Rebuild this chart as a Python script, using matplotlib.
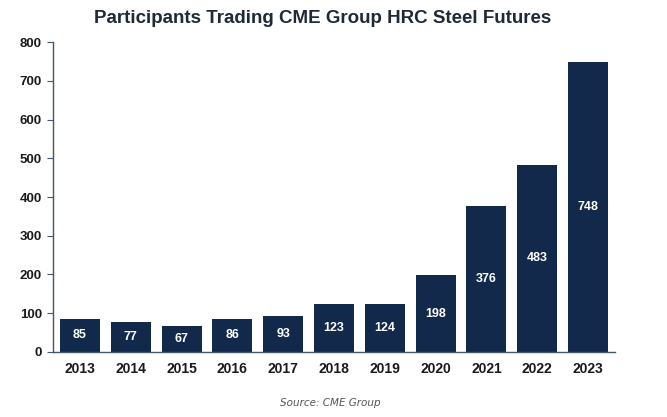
import matplotlib
matplotlib.use("Agg")
import matplotlib.pyplot as plt

years = ["2013", "2014", "2015", "2016", "2017", "2018", "2019", "2020", "2021", "2022", "2023"]
participants = [85, 77, 67, 86, 93, 123, 124, 198, 376, 483, 748]
yticks = [0, 100, 200, 300, 400, 500, 600, 700, 800]

navy = "#13294B"
plt.rcParams['font.family'] = ['Liberation Sans', 'DejaVu Sans']

fig = plt.figure(figsize=(6.67, 4.17), dpi=100)
ax = fig.add_axes([0.0795, 0.156, 0.8425, 0.743])
x = list(range(len(years)))
bars = ax.bar(x, participants, width=0.79, color=navy)
for xi, v in zip(x, participants):
    ax.text(xi, v / 2, str(v), ha='center', va='center', color='white',
            fontsize=9, fontweight='bold')

ax.set_xlim(-0.53, 10.53)
ax.set_ylim(0, 800)
ax.set_yticks(yticks)
ax.set_xticks(x)
ax.set_xticklabels(years)
for s in ['top', 'right']:
    ax.spines[s].set_visible(False)
for s in ['left', 'bottom']:
    ax.spines[s].set_color('#44546A')
    ax.spines[s].set_linewidth(1.0)
ax.tick_params(axis='y', length=4, color='#44546A', labelsize=9.5, labelcolor='#1a1a1a', pad=4)
ax.tick_params(axis='x', length=0, labelsize=10, labelcolor='#1a1a1a', pad=7)
for lab in ax.get_xticklabels() + ax.get_yticklabels():
    lab.set_fontweight('bold')

fig.text(0.484, 0.955, "Participants Trading CME Group HRC Steel Futures", ha='center', va='center',
         fontsize=13.5, fontweight='bold', color='#1f2a38')
fig.text(0.495, 0.033, "Source: CME Group", ha='center', va='center', fontsize=7.5,
         style='italic', color='#555555', family=['DejaVu Sans'])

fig.savefig("out.png", dpi=100)
